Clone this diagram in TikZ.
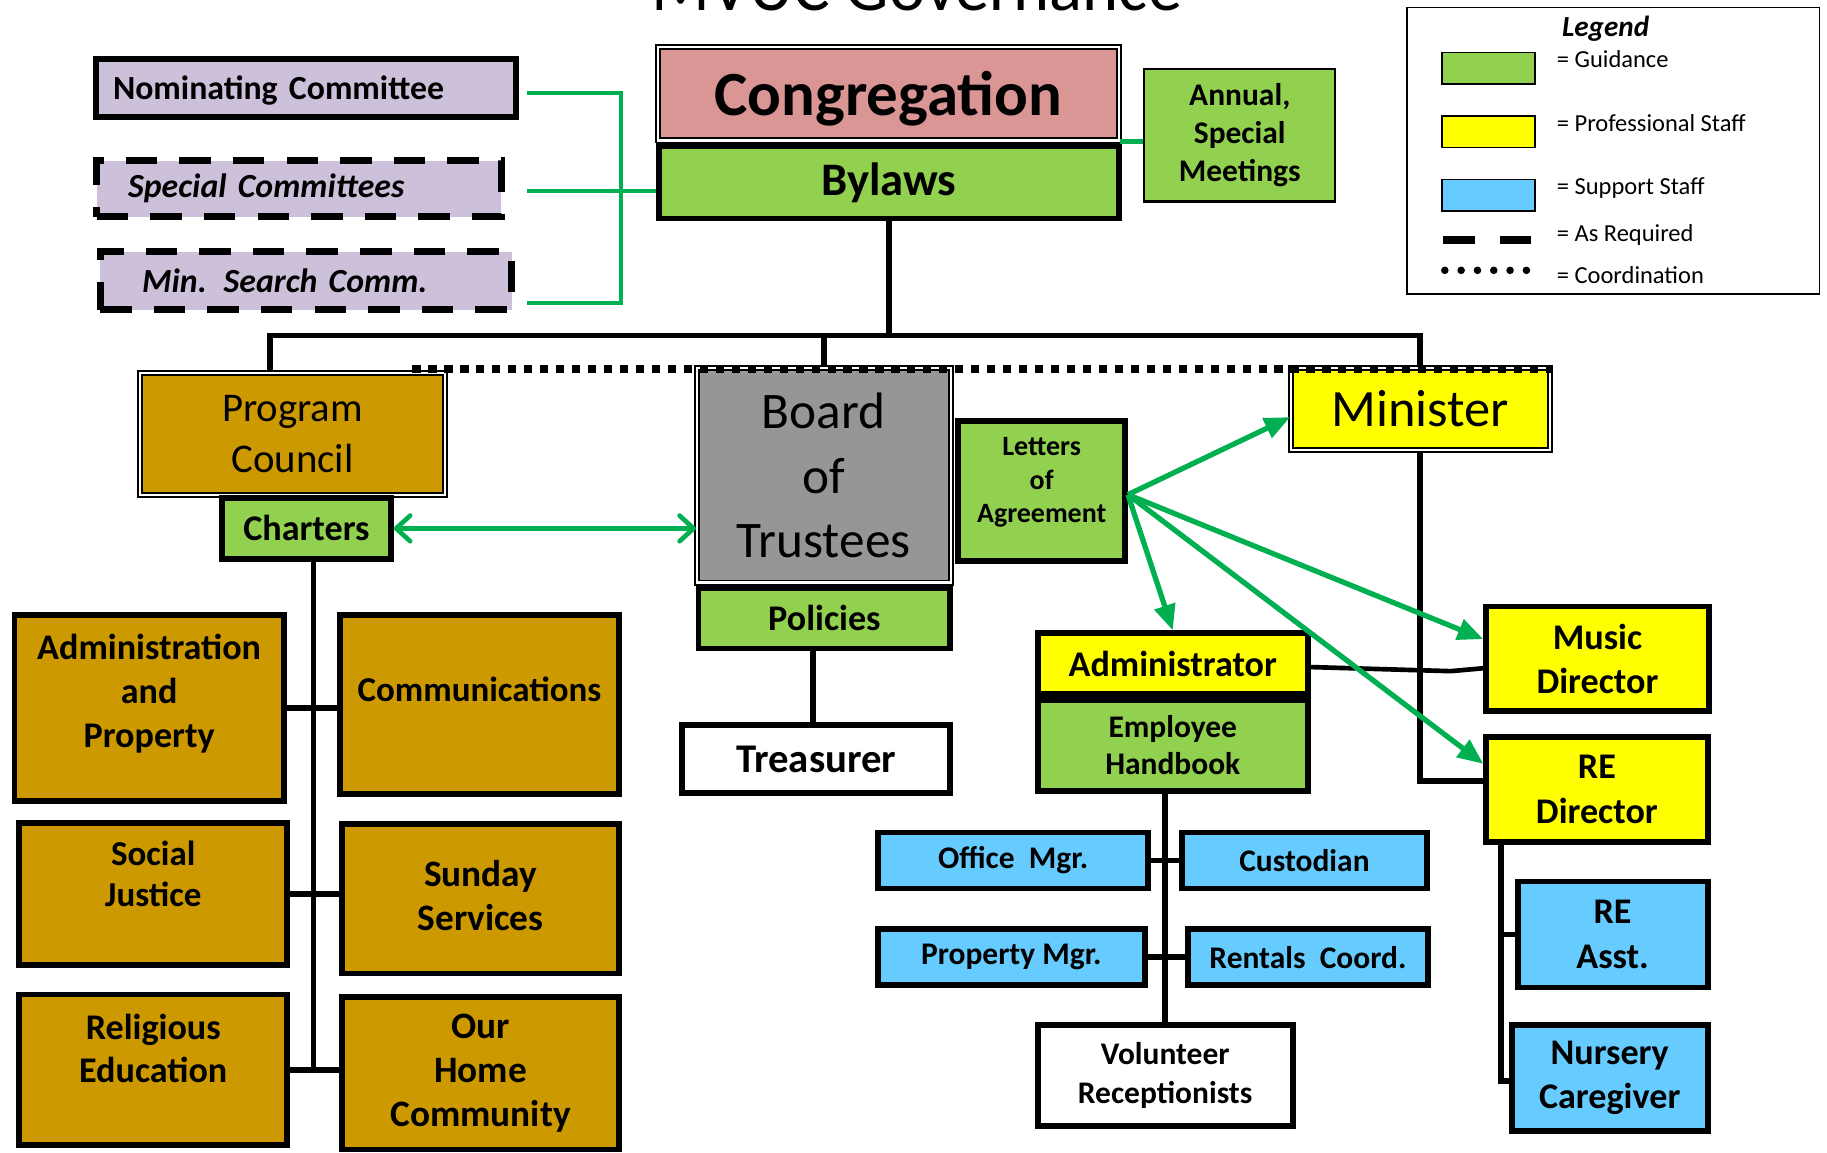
\documentclass[tikz,border=0pt]{standalone}
\usepackage{fontspec}
\setmainfont{Carlito}
\usetikzlibrary{arrows.meta}
\newcommand{\fsz}[2]{\fontsize{#1pt}{#2pt}\selectfont}
\definecolor{guide}{HTML}{92D050}
\definecolor{prof}{HTML}{FFFF00}
\definecolor{supp}{HTML}{66CCFF}
\definecolor{prog}{HTML}{CC9900}
\definecolor{congr}{HTML}{DA9694}
\definecolor{commit}{HTML}{CCC0DA}
\definecolor{trust}{HTML}{969696}
\definecolor{linkgreen}{HTML}{00B050}
\tikzset{
  bx/.style 2 args={font=\bfseries\fsz{#1}{#2}},
  bxi/.style 2 args={font=\bfseries\itshape\fsz{#1}{#2}},
  rg/.style 2 args={font=\fsz{#1}{#2}},
  box/.style={draw=black, line width=5pt, inner sep=0pt, align=center},
  dblbox/.style={draw=black, line width=1.5pt, double=white, double distance=2pt, inner sep=0pt, align=center},
  dashbox/.style={draw=black, line width=6pt, dash pattern=on 27pt off 19pt, fill=commit, inner ysep=0pt, align=left},
  tree/.style={draw=black, line width=5pt},
  guideline/.style={draw=linkgreen, line width=3pt},
  agree/.style={draw=linkgreen, line width=4.5pt, -{Triangle[length=22pt,width=18pt]}},
  coordline/.style={draw=black, line width=7pt, dash pattern=on 7pt off 6.7pt},
  swatch/.style={draw=black, line width=1.5pt, minimum width=80pt, minimum height=27pt, inner sep=0pt},
  lgtext/.style={anchor=west, inner sep=0pt, font=\fsz{21}{25}}
}

\begin{document}
\begin{tikzpicture}[x=1pt, y=-1pt]
    \useasboundingbox (0,0) rectangle (1568,989);
    % Title (cut at the top)
    \node[anchor=base, rg={59}{65}] (title) at (787,9) {MVUC Governance};
    % Committees
    \node[box, fill=commit, bx={29}{33}, text width=331pt, inner xsep=14.5pt, align=left, minimum height=50pt, text depth=0pt] (nomin) at (262.5,75.5) {Nominating Committee};
    \node[dashbox, bxi={29}{33}, text width=293pt, inner xsep=27pt, minimum height=48pt] (special) at (256.5,162) {Special Committees};
    \node[dashbox, bxi={29}{33}, text width=281pt, inner xsep=36pt, minimum height=50pt] (minsearch) at (262.5,241) {Min. Search Comm.};
    % Congregation
    \node[dblbox, fill=congr, bx={54}{60}, minimum width=396pt, minimum height=80pt, text depth=0pt] (congr) at (762.5,80.5) {Congregation};
    \node[box, fill=guide, bx={40}{46}, minimum width=395pt, minimum height=62pt] (bylaws) at (763,156.5) {Bylaws};
    \node[box, line width=2pt, fill=guide, bx={27}{33}, minimum width=164pt, minimum height=114pt] (annual) at (1064,116) {Annual,\\Special\\Meetings};
    % Second level
    \node[dblbox, fill=prog, rg={35}{43}, minimum width=262pt, minimum height=105pt] (progc) at (251,372.5) {Program\\Council};
    \node[box, fill=guide, bx={31}{36}, minimum width=145pt, minimum height=52pt] (charters) at (263,453.5) {Charters};
    \node[dblbox, fill=trust, rg={44}{55}, minimum width=218pt, minimum height=184pt] (board) at (707,408) {Board\\of\\Trustees};
    \node[box, fill=guide, bx={31}{36}, minimum width=216pt, minimum height=52pt] (policies) at (707.5,530.5) {Policies};
    \node[box, fill=white, bx={35}{40}, minimum width=230pt, minimum height=58pt] (treas) at (700.5,651.5) {Treasurer};
    \node[box, fill=guide, bx={24}{29}, minimum width=143pt, minimum height=120pt] (letters) at (894,421.5) {Letters\\of\\Agreement\\[-10pt]\mbox{}};
    \node[dblbox, fill=prof, rg={45}{50}, minimum width=222pt, minimum height=70pt] (minst) at (1219,351) {Minister};
    % Staff
    \node[box, fill=prof, bx={31}{36}, minimum width=232pt, minimum height=52pt] (admin) at (1006.5,569.5) {Administrator};
    \node[box, fill=guide, bx={27}{32}, minimum width=232pt, minimum height=78pt] (handbook) at (1006.5,639.5) {Employee\\Handbook};
    \node[box, fill=prof, bx={31}{38}, minimum width=191pt, minimum height=90pt] (music) at (1371,565.5) {Music\\Director};
    \node[box, fill=prof, bx={31}{38}, minimum width=190pt, minimum height=90pt] (redir) at (1370.5,677.5) {RE\\Director};
    \node[box, fill=supp, bx={31}{39}, minimum width=163pt, minimum height=91pt] (reasst) at (1384,802) {RE\\Asst.};
    \node[box, fill=supp, bx={31}{38}, minimum width=168pt, minimum height=91pt] (nursery) at (1381.5,925) {Nursery\\Caregiver};
    \node[box, fill=supp, bx={27}{32}, minimum width=232pt, minimum height=48pt] (office) at (869.5,738.5) {Office\ \ Mgr.};
    \node[box, fill=supp, bx={27}{32}, minimum width=210pt, minimum height=48pt] (custod) at (1119.5,738.5) {Custodian};
    \node[box, fill=supp, bx={27}{32}, minimum width=229pt, minimum height=48pt] (propm) at (868,821.5) {Property Mgr.};
    \node[box, fill=supp, bx={27}{32}, minimum width=206pt, minimum height=48pt] (rental) at (1122.5,821.5) {Rentals\ \ Coord.};
    \node[box, fill=white, bx={27}{33}, minimum width=219pt, minimum height=87pt] (volunt) at (1000,923) {Volunteer\\Receptionists};
    % Program committees
    \node[box, fill=prog, bx={31}{38}, minimum width=231pt, minimum height=160pt] (adminprop) at (128,607.5) {Administration\\and\\Property\\[-9pt]\mbox{}};
    \node[box, fill=prog, bx={30}{36}, minimum width=240pt, minimum height=154pt] (comm) at (411.5,604.5) {Communications\\[-10pt]\mbox{}};
    \node[box, fill=prog, bx={30}{35}, minimum width=230pt, minimum height=122pt] (social) at (131.5,767.5) {Social\\Justice\\\mbox{}};
    \node[box, fill=prog, bx={32}{38}, minimum width=238pt, minimum height=128pt] (sunday) at (412.5,771.5) {Sunday\\Services\\[-32pt]\mbox{}};
    \node[box, fill=prog, bx={31}{37}, minimum width=230pt, minimum height=129pt] (relig) at (131.5,918) {Religious\\Education\\\mbox{}};
    \node[box, fill=prog, bx={32}{38}, minimum width=238pt, minimum height=131pt] (ourhome) at (412.5,921) {Our\\Home\\Community};
    % Legend
    \node[draw, line width=1.5pt, minimum width=354pt, minimum height=246pt, inner sep=0pt] (legend) at (1384.5,129.5) {};
    \node[bxi={25}{30}] (lgtitle) at (1378,25) {Legend};
    \node[swatch, fill=guide] (lgguide) at (1277.5,58.5) {};
    \node[swatch, fill=prof] (lgprof) at (1277.5,113) {};
    \node[swatch, fill=supp] (lgsupp) at (1277.5,167.5) {};
    \node[lgtext] (lgtguide) at (1336,51) {= Guidance};
    \node[lgtext] (lgtprof) at (1336,106) {= Professional Staff};
    \node[lgtext] (lgtsupp) at (1336,161) {= Support Staff};
    \node[lgtext] (lgtreq) at (1336,202) {= As Required};
    \node[lgtext] (lgtcoord) at (1336,236) {= Coordination};
    \coordinate (lgdashL) at (1238,206);
    \coordinate (lgdashR) at (1314,206);
    \draw[line width=7pt, dash pattern=on 28pt off 21pt] (lgdashL) -- (lgdashR);
    \coordinate (lgdotL) at (1240,232);
    \coordinate (lgdotR) at (1311,232);
    \draw[line width=6.5pt, line cap=round, dash pattern=on 0pt off 14pt] (lgdotL) -- (lgdotR);
    % Green bracket
    \coordinate (brN) at (452,80);
    \coordinate (brM) at (452,164);
    \coordinate (brS) at (452,260);
    \draw[guideline] (brN) -| (533,164) |- (brS);
    \draw[guideline] (brM) -- (brM -| bylaws.west);
    \draw[guideline, line width=4pt] (congr.south east) -- (congr.south east -| annual.west);
    % Tree
    \coordinate (busL) at (232,288);
    \coordinate (busR) at (1219,288);
    \draw[tree] (bylaws.south) -- (bylaws.south |- busL);
    \draw[tree] (progc.north -| busL) -- (busL) -- (busR) -- (minst.north);
    \draw[tree] (board.north |- busL) -- (board.north);
    \draw[tree] ([xshift=-10pt]policies.south) -- ([xshift=-10pt]policies.south |- treas.north);
    \coordinate (spine) at (269,918);
    \draw[tree] (charters.south -| spine) -- (spine);
    \draw[tree] (adminprop.east) -- (adminprop.east -| comm.west);
    \draw[tree] (social.east) -- (social.east -| sunday.west);
    \draw[tree] (relig.east) -- (relig.east -| ourhome.west);
    \draw[tree] (handbook.south -| volunt.north) -- (volunt.north);
    \draw[tree] (office.east) -- (custod.west);
    \draw[tree] (propm.east) -- (rental.west);
    \coordinate (kink) at (1245,576);
    \draw[tree, line width=4pt] ([yshift=-3pt]admin.east) -- (kink) -- ([yshift=-8pt]music.west);
    \draw[tree] (minst.south) |- ([yshift=7pt]redir.west);
    \coordinate (respine) at (1288,928);
    \draw[tree] (redir.south -| respine) -- (respine) -- (respine -| nursery.west);
    \draw[tree] (reasst.west -| respine) -- (reasst.west);
    % Coordination
    \coordinate (coordL) at (354,317);
    \draw[coordline] (coordL) -- (coordL -| minst.north east);
    % Letters of agreement
    \draw[agree] ([yshift=-3pt]letters.east) -- ([yshift=-7pt]minst.west);
    \draw[agree] ([yshift=-3pt]letters.east) -- (admin.north);
    \draw[agree] ([yshift=-3pt]letters.east) -- ([yshift=17pt]music.west);
    \draw[agree] ([yshift=-3pt]letters.east) -- ([yshift=22pt]redir.west);
    \draw[guideline, line width=4pt, {Straight Barb[length=12pt,width=22pt,round]}-{Straight Barb[length=12pt,width=22pt,round]}] (charters.east) -- (charters.east -| board.west);
\end{tikzpicture}
\end{document}
